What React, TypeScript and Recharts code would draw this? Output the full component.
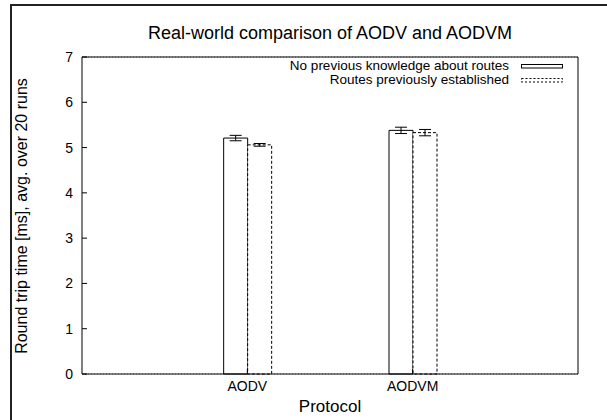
import {
  Bar,
  BarChart,
  CartesianGrid,
  ErrorBar,
  XAxis,
  YAxis,
} from "recharts";

const categories = ["AODV", "AODVM"];
const positions = [0, 1];
const seriesNames = ["No previous knowledge about routes", "Routes previously established"];
const noPrevious = [5.21, 5.38];
const noPreviousErr = [0.06, 0.07];
const established = [5.06, 5.33];
const establishedErr = [0.03, 0.07];
const yTicks = [0, 1, 2, 3, 4, 5, 6, 7];

const data = positions.map((x, i) => ({
  x,
  label: categories[i],
  noPrevious: noPrevious[i],
  noPreviousErr: noPreviousErr[i],
  established: established[i],
  establishedErr: establishedErr[i],
}));

const font = "'Liberation Sans', Arial, sans-serif";
const tickStyle = { fontSize: 14, fill: "#000", fontFamily: font };

function LegendBox() {
  return (
    <div
      style={{
        position: "absolute",
        top: 59,
        left: 0,
        width: 563,
        fontSize: 13.5,
        color: "#000",
      }}
    >
      {seriesNames.map((name, i) => (
        <div
          key={name}
          style={{ display: "flex", justifyContent: "flex-end", alignItems: "center", height: 14 }}
        >
          <span style={{ marginRight: 12, lineHeight: "14px" }}>{name}</span>
          <svg width={42} height={5}>
            <rect
              x={0.5}
              y={0.5}
              width={41}
              height={3.5}
              fill="#fff"
              stroke="#000"
              strokeWidth={1}
              strokeDasharray={i === 1 ? "2 2" : undefined}
            />
          </svg>
        </div>
      ))}
    </div>
  );
}

export default function App() {
  return (
    <div
      style={{
        position: "absolute",
        left: 0,
        top: 0,
        width: 607,
        height: 420,
        background: "#fff",
        overflow: "hidden",
        fontFamily: font,
      }}
    >
      <div
        style={{
          position: "absolute",
          left: 10,
          top: 4,
          width: 640,
          height: 460,
          border: "2px solid #222",
          boxSizing: "border-box",
        }}
      />
      <div
        style={{
          position: "absolute",
          left: 0,
          width: 660,
          top: 23,
          textAlign: "center",
          fontSize: 18,
        }}
      >
        Real-world comparison of AODV and AODVM
      </div>
      <div
        style={{
          position: "absolute",
          left: 0,
          width: 660,
          top: 397,
          textAlign: "center",
          fontSize: 17,
        }}
      >
        Protocol
      </div>
      <div
        style={{
          position: "absolute",
          left: 22,
          top: 216,
          transform: "translate(-50%, -50%) rotate(-90deg)",
          whiteSpace: "nowrap",
          fontSize: 16,
        }}
      >
        Round trip time [ms], avg. over 20 runs
      </div>
      <BarChart
        width={607}
        height={420}
        data={data}
        margin={{ top: 56, right: 28, left: 0, bottom: 16 }}
        barGap={0}
        barSize={24}
        style={{ position: "absolute", left: 0, top: 0 }}
      >
        <CartesianGrid vertical={false} stroke="#888" strokeDasharray="1 2" />
        <XAxis
          xAxisId="bottom"
          dataKey="x"
          type="number"
          domain={[-1, 2]}
          ticks={positions}
          tickFormatter={(v: number) => categories[positions.indexOf(v)] ?? ""}
          tick={tickStyle}
          stroke="#000"
          tickSize={-5}
          tickMargin={12}
          height={30}
        />
        <XAxis
          xAxisId="top"
          orientation="top"
          dataKey="x"
          type="number"
          domain={[-1, 2]}
          ticks={positions}
          tick={false}
          stroke="#000"
          tickSize={-5}
          height={1}
        />
        <YAxis
          yAxisId="left"
          domain={[0, 7]}
          ticks={yTicks}
          tick={tickStyle}
          stroke="#000"
          tickSize={-5}
          tickMargin={14}
          width={82}
        />
        <YAxis
          yAxisId="right"
          orientation="right"
          domain={[0, 7]}
          ticks={yTicks}
          tick={false}
          stroke="#000"
          tickSize={-5}
          width={1}
        />
        <Bar
          xAxisId="bottom"
          yAxisId="left"
          dataKey="noPrevious"
          name={seriesNames[0]}
          fill="#fff"
          stroke="#000"
          strokeWidth={1}
          isAnimationActive={false}
        >
          <ErrorBar dataKey="noPreviousErr" width={6} stroke="#000" strokeWidth={1} />
        </Bar>
        <Bar
          xAxisId="bottom"
          yAxisId="left"
          dataKey="established"
          name={seriesNames[1]}
          fill="#fff"
          stroke="#000"
          strokeWidth={1}
          strokeDasharray="3 2"
          isAnimationActive={false}
        >
          <ErrorBar dataKey="establishedErr" width={6} stroke="#000" strokeWidth={1} />
        </Bar>
      </BarChart>
      <LegendBox />
    </div>
  );
}
